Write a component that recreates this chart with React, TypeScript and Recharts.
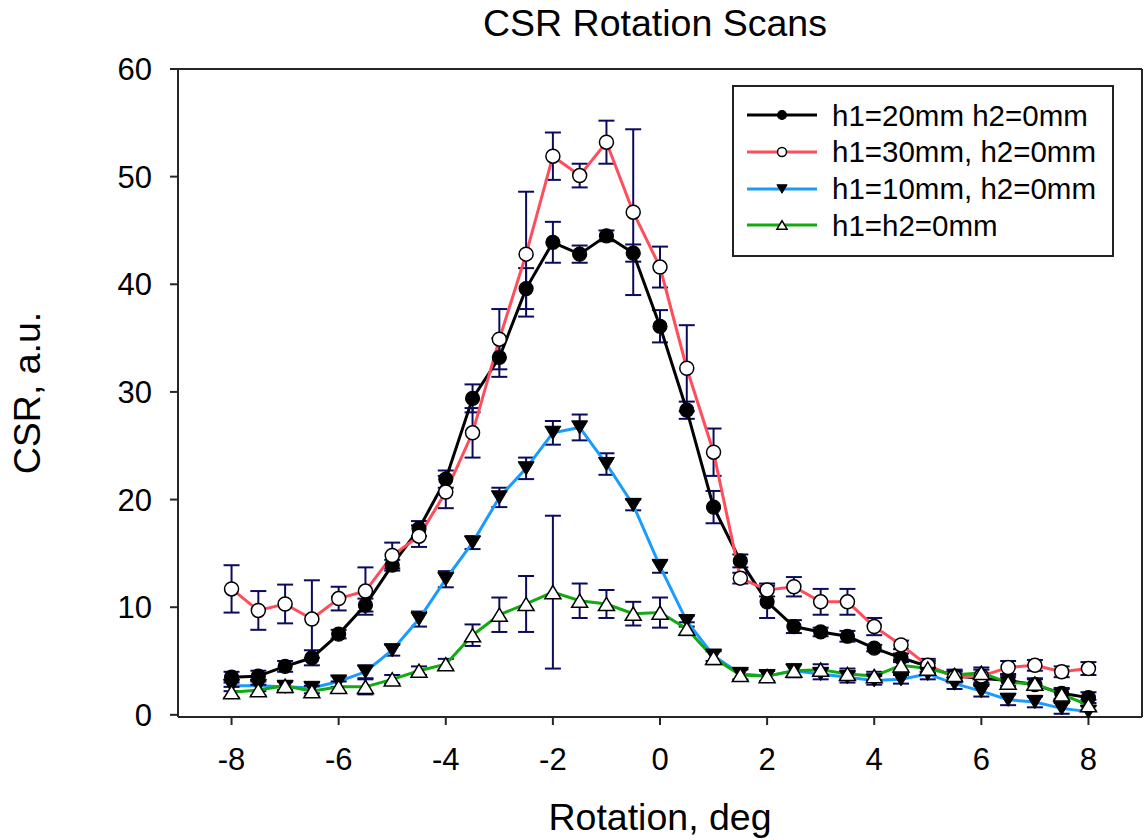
import React from 'react';
import {
  ComposedChart,
  Line,
  XAxis,
  YAxis,
  ErrorBar,
  Legend,
  ReferenceLine,
} from 'recharts';

const rotation = [
  -8, -7.5, -7, -6.5, -6, -5.5, -5, -4.5, -4, -3.5, -3, -2.5, -2, -1.5, -1, -0.5,
  0, 0.5, 1, 1.5, 2, 2.5, 3, 3.5, 4, 4.5, 5, 5.5, 6, 6.5, 7, 7.5, 8,
];

// h1=20mm h2=0mm
const h20 = [
  3.5, 3.6, 4.5, 5.3, 7.5, 10.2, 13.9, 17.3, 21.9, 29.4, 33.2, 39.6, 43.9, 42.8, 44.5, 42.9,
  36.1, 28.3, 19.3, 14.3, 10.5, 8.2, 7.7, 7.3, 6.2, 5.3, 4.5, 3.6, 3.4, 3.2, 2.8, 2.0, 1.6,
];
const h20Err = [
  0.5, 0.5, 0.5, 0.7, 0.4, 0.6, 0.5, 0.7, 0.8, 1.3, 1.8, 1.9, 1.9, 0.8, 0.5, 0.8,
  1.5, 0.8, 1.5, 0.6, 1.5, 0.6, 0.4, 0.5, 0.3, 0.4, 0.5, 0.5, 0.5, 0.5, 0.5, 0.5, 0.5,
];

// h1=30mm, h2=0mm
const h30 = [
  11.7, 9.7, 10.3, 8.9, 10.8, 11.5, 14.8, 16.6, 20.7, 26.2, 34.9, 42.8, 51.9, 50.1, 53.2, 46.7,
  41.6, 32.2, 24.4, 12.7, 11.6, 11.9, 10.5, 10.5, 8.2, 6.5, 4.6, 3.5, 3.6, 4.4, 4.6, 4.0, 4.3,
];
const h30Err = [
  2.2, 1.8, 1.8, 3.6, 1.1, 2.2, 1.2, 1.0, 1.5, 2.3, 2.8, 5.8, 2.2, 1.1, 2.0, 7.7,
  1.9, 4.0, 2.2, 0.5, 0.6, 0.9, 1.2, 1.2, 0.8, 0.4, 0.6, 0.5, 0.6, 0.6, 0.5, 0.5, 0.6,
];

// h1=10mm, h2=0mm
const h10 = [
  2.7, 2.7, 2.6, 2.5, 3.1, 4.0, 6.0, 8.9, 12.6, 16.0, 20.2, 22.9, 26.2, 26.7, 23.3, 19.5,
  13.8, 8.7, 5.5, 3.8, 3.6, 4.1, 3.8, 3.5, 3.2, 3.3, 3.8, 2.9, 2.2, 1.4, 1.2, 0.6, 0.3,
];
const h10Err = [
  0.5, 0.5, 0.5, 0.5, 0.5, 0.6, 0.5, 0.7, 0.75, 0.6, 0.9, 1.0, 1.1, 1.2, 1.0, 0.5,
  0.6, 0.5, 0.5, 0.5, 0.5, 0.6, 0.5, 0.5, 0.4, 0.4, 0.5, 0.5, 0.5, 0.5, 0.5, 0.5, 0.5,
];

// h1=h2=0mm
const h0 = [
  2.1, 2.3, 2.7, 2.2, 2.6, 2.6, 3.3, 4.1, 4.7, 7.4, 9.3, 10.3, 11.4, 10.6, 10.3, 9.4,
  9.5, 8.0, 5.3, 3.7, 3.6, 4.1, 4.2, 3.8, 3.6, 4.6, 4.3, 3.7, 3.9, 3.0, 2.9, 1.9, 0.9,
];
const h0Err = [
  0.5, 0.5, 0.4, 0.5, 0.5, 0.7, 0.4, 0.4, 0.5, 1.0, 1.6, 2.6, 7.1, 1.6, 1.3, 1.1,
  1.4, 0.6, 0.6, 0.5, 0.5, 0.6, 0.5, 0.5, 0.4, 0.5, 0.5, 0.5, 0.5, 0.5, 0.5, 0.5, 0.5,
];

const xTicks = [-8, -6, -4, -2, 0, 2, 4, 6, 8];
const yTicks = [0, 10, 20, 30, 40, 50, 60];

const seriesKeys = ['h20', 'h30', 'h10', 'h0'];
const seriesNames = ['h1=20mm h2=0mm', 'h1=30mm, h2=0mm', 'h1=10mm, h2=0mm', 'h1=h2=0mm'];
const seriesColors = ['#000000', '#ff4d5c', '#1a9cff', '#11aa11'];
const seriesMarkers = ['dot', 'circle', 'down', 'up'];

const rows = rotation.map((x, i) => ({
  x,
  h20: h20[i],
  h20Err: h20Err[i],
  h30: h30[i],
  h30Err: h30Err[i],
  h10: h10[i],
  h10Err: h10Err[i],
  h0: h0[i],
  h0Err: h0Err[i],
}));

const FONT = '"Liberation Sans", Arial, Helvetica, sans-serif';
const ERR = '#0b0b5e';
const AXIS = '#262626';

function marker(kind: string, cx: number, cy: number, s: number, key?: string | number) {
  if (kind === 'dot') {
    return <circle key={key} cx={cx} cy={cy} r={7 * s} fill="#000" stroke="#000" strokeWidth={1.2} />;
  }
  if (kind === 'circle') {
    return <circle key={key} cx={cx} cy={cy} r={7 * s} fill="#fff" stroke="#000" strokeWidth={1.5} />;
  }
  const hw = 8 * s;
  const hh = 6.6 * s;
  if (kind === 'down') {
    return (
      <path
        key={key}
        d={`M${cx - hw},${cy - hh} L${cx + hw},${cy - hh} L${cx},${cy + hh} Z`}
        fill="#000"
        stroke="#000"
        strokeWidth={1}
      />
    );
  }
  return (
    <path
      key={key}
      d={`M${cx - hw},${cy + hh} L${cx + hw},${cy + hh} L${cx},${cy - hh} Z`}
      fill="#fff"
      stroke="#000"
      strokeWidth={1.5}
    />
  );
}

const makeDot = (kind: string) => (props: any) => {
  const { cx, cy, index } = props;
  if (cx == null || cy == null) return <g key={`${kind}-${index}`} />;
  return marker(kind, cx, cy, 1, `${kind}-${index}`);
};

function LegendBox() {
  return (
    <div
      style={{
        boxSizing: 'border-box',
        width: 382,
        height: 172,
        border: '2px solid #222',
        background: '#fff',
        padding: '10px 0 0 13px',
        fontFamily: FONT,
      }}
    >
      {seriesNames.map((name, i) => (
        <div key={name} style={{ display: 'flex', alignItems: 'center', height: 36.7 }}>
          <svg width={70} height={20} style={{ display: 'block' }}>
            <line x1={0} y1={10} x2={70} y2={10} stroke={seriesColors[i]} strokeWidth={3} />
            {marker(seriesMarkers[i], 35, 10, 0.64)}
          </svg>
          <span style={{ marginLeft: 15, fontSize: 29.5, lineHeight: 1, color: '#000', whiteSpace: 'nowrap' }}>
            {name}
          </span>
        </div>
      ))}
    </div>
  );
}

export default function App() {
  return (
    <div
      style={{
        position: 'absolute',
        left: 0,
        top: 0,
        width: 1144,
        height: 840,
        background: '#fff',
        fontFamily: FONT,
      }}
    >
      <div
        style={{
          position: 'absolute',
          left: 405,
          top: 5,
          width: 500,
          textAlign: 'center',
          fontSize: 37.5,
          lineHeight: '37.5px',
          color: '#000',
        }}
      >
        CSR Rotation Scans
      </div>
      <ComposedChart width={1144} height={840} data={rows} margin={{ top: 69, right: 2, bottom: 0, left: 0 }}>
        <XAxis
          dataKey="x"
          type="number"
          domain={[-9, 9]}
          ticks={xTicks}
          allowDataOverflow
          height={123}
          tickSize={8}
          tickMargin={23}
          tick={{ fontSize: 31, fill: '#000' }}
          stroke={AXIS}
          strokeWidth={2}
          label={{ value: 'Rotation, deg', position: 'insideBottom', offset: 10, fontSize: 37.5, fill: '#000' }}
        />
        <YAxis
          type="number"
          domain={[0, 60]}
          ticks={yTicks}
          width={178}
          tickSize={8}
          tickMargin={18}
          tick={{ fontSize: 31, fill: '#000' }}
          stroke={AXIS}
          strokeWidth={2}
          label={{
            value: 'CSR, a.u.',
            angle: -90,
            position: 'insideLeft',
            offset: 27,
            fontSize: 37.5,
            fill: '#000',
            style: { textAnchor: 'middle' },
          }}
        />
        <ReferenceLine y={60} stroke={AXIS} strokeWidth={2} />
        <ReferenceLine x={9} stroke={AXIS} strokeWidth={2} />
        {seriesKeys.map((k, i) => (
          <Line
            key={k}
            dataKey={k}
            name={seriesNames[i]}
            type="linear"
            stroke={seriesColors[i]}
            strokeWidth={3}
            dot={makeDot(seriesMarkers[i])}
            activeDot={false}
            isAnimationActive={false}
          >
            <ErrorBar dataKey={`${k}Err`} direction="y" width={8} stroke={ERR} strokeWidth={2} isAnimationActive={false} />
          </Line>
        ))}
        <Legend
          layout="vertical"
          align="center"
          verticalAlign="middle"
          wrapperStyle={{ left: 732, top: 85, width: 382, height: 172 }}
          content={() => <LegendBox />}
        />
      </ComposedChart>
    </div>
  );
}
